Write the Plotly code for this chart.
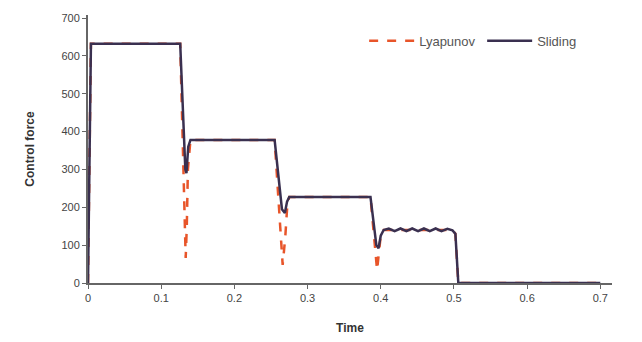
import plotly.graph_objects as go

# Time (s) and control force values
t_sliding = [0.0, 0.004, 0.126, 0.133, 0.1345, 0.137, 0.140, 0.255, 0.265, 0.269, 0.272, 0.275,
             0.386, 0.394, 0.397, 0.400, 0.404,
             0.411, 0.419, 0.427, 0.435, 0.443, 0.451, 0.459, 0.467, 0.475, 0.483, 0.491, 0.498,
             0.502, 0.506, 0.60, 0.70]
f_sliding = [0.0, 632, 632, 300, 290, 360, 378, 378, 195, 185, 215, 227,
             227, 100, 92, 125, 140,
             144, 137, 144, 137, 144, 137, 144, 137, 144, 137, 143, 139,
             130, 0, 0, 0]

t_lyap = [0.0, 0.004, 0.126, 0.1335, 0.1350, 0.1365, 0.140, 0.255, 0.266, 0.2695, 0.2725, 0.275,
          0.386, 0.395, 0.3975, 0.400, 0.404, 0.498, 0.502, 0.506, 0.60, 0.70]
f_lyap = [0.0, 632, 632, 66, 150, 300, 378, 378, 48, 120, 210, 227,
          227, 34, 80, 125, 140, 140, 130, 0, 0, 0]

x_ticks = [0, 0.1, 0.2, 0.3, 0.4, 0.5, 0.6, 0.7]
x_tick_text = ["0", "0.1", "0.2", "0.3", "0.4", "0.5", "0.6", "0.7"]
y_ticks = [0, 100, 200, 300, 400, 500, 600, 700]

fig = go.Figure()
fig.add_trace(go.Scatter(x=t_lyap, y=f_lyap, mode="lines", name="Lyapunov",
                         line=dict(color="#e8552a", width=2.5, dash="dash")))
fig.add_trace(go.Scatter(x=t_sliding, y=f_sliding, mode="lines", name="Sliding",
                         line=dict(color="#3a3050", width=2.5)))

axis_font = dict(family="Liberation Sans, Arial, sans-serif", size=11, color="#444")
fig.update_layout(
    width=642, height=342,
    margin=dict(l=80, r=38, t=7, b=67),
    plot_bgcolor="white", paper_bgcolor="white",
    font=axis_font,
    showlegend=True,
    legend=dict(orientation="h", x=0.527, y=0.96, xanchor="left", yanchor="top",
                itemwidth=45, entrywidth=58,
                font=dict(size=13, color="#555"), bgcolor="rgba(0,0,0,0)"),
    xaxis=dict(range=[0, 0.716], tickvals=x_ticks, ticktext=x_tick_text, automargin=False,
               showgrid=False, zeroline=False, showline=True, linecolor="#666", linewidth=2,
               ticks="outside", ticklen=4, tickcolor="#666",
               title=dict(text="<b>Time</b>", font=dict(size=12, color="#333"), standoff=20)),
    yaxis=dict(range=[0, 708], tickvals=y_ticks, automargin=False,
               showgrid=False, zeroline=False, showline=True, linecolor="#666", linewidth=2,
               ticks="outside", ticklen=4, tickcolor="#666",
               title=dict(text="<b>Control force</b>", font=dict(size=12, color="#333"), standoff=24)),
)

fig.write_html("out.html")
